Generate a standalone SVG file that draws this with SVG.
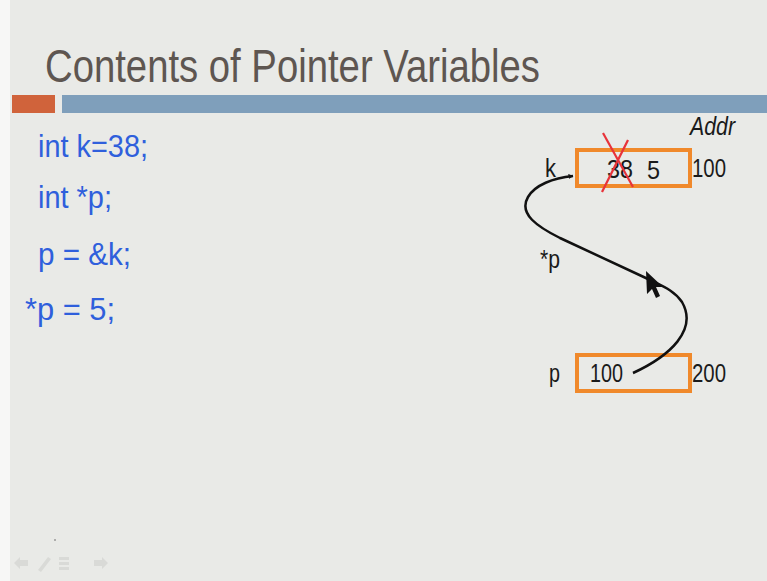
<svg xmlns="http://www.w3.org/2000/svg" width="767" height="581" viewBox="0 0 767 581">
<defs>
<style>
.title{font-family:"Liberation Sans",Arial,sans-serif;font-size:47px;fill:#5e5651}
.code{font-family:"Liberation Sans",Arial,sans-serif;font-size:32px;fill:#2f5fdc}
.lbl{font-family:"Liberation Sans",Arial,sans-serif;font-size:25px;fill:#1a1a1a}
.box{fill:none;stroke:#f0892b;stroke-width:4}
.conn{fill:none;stroke:#111;stroke-width:2.5}
.x{stroke:#e8333a;stroke-width:2.2}
</style>
<marker id="ah" viewBox="0 0 10 10" refX="9" refY="5" markerWidth="5" markerHeight="5" orient="auto" markerUnits="userSpaceOnUse">
<path d="M0,0 L10,5 L0,10 z" fill="#111"/>
</marker>
</defs>
<rect width="767" height="581" fill="#e9eae7"/>
<rect width="10" height="581" fill="#f7f7f6"/>
<g id="header">
<text class="title" x="45" y="82" textLength="495" lengthAdjust="spacingAndGlyphs">Contents of Pointer Variables</text>
<rect x="12" y="95" width="43" height="18" fill="#d0633b"/>
<rect x="62" y="95" width="705" height="18" fill="#7f9fbb"/>
</g>
<g id="code">
<text class="code" x="38" y="157" textLength="110" lengthAdjust="spacingAndGlyphs">int k=38;</text>
<text class="code" x="38" y="208" textLength="74" lengthAdjust="spacingAndGlyphs">int *p;</text>
<text class="code" x="38" y="265" textLength="93" lengthAdjust="spacingAndGlyphs">p = &amp;k;</text>
<text class="code" x="25" y="320" textLength="90" lengthAdjust="spacingAndGlyphs">*p = 5;</text>
</g>
<g id="addr">
<text class="lbl" x="690" y="135" font-style="italic" textLength="45" lengthAdjust="spacingAndGlyphs">Addr</text>
</g>
<g id="node-k">
<rect class="box" x="577" y="150" width="113" height="36"/>
<text class="lbl" x="545" y="177" textLength="11" lengthAdjust="spacingAndGlyphs">k</text>
<text class="lbl" x="607" y="178" textLength="26" lengthAdjust="spacingAndGlyphs">38</text>
<line class="x" x1="603" y1="133" x2="633" y2="187"/>
<line class="x" x1="628" y1="140" x2="602" y2="192"/>
<text class="lbl" x="647" y="179" textLength="13" lengthAdjust="spacingAndGlyphs">5</text>
<text class="lbl" x="692" y="177" textLength="34" lengthAdjust="spacingAndGlyphs">100</text>
</g>
<g id="node-p">
<rect class="box" x="577" y="355" width="113" height="36"/>
<text class="lbl" x="549" y="382" textLength="11" lengthAdjust="spacingAndGlyphs">p</text>
<text class="lbl" x="590" y="382" textLength="33" lengthAdjust="spacingAndGlyphs">100</text>
<text class="lbl" x="692" y="382" textLength="34" lengthAdjust="spacingAndGlyphs">200</text>
</g>
<g id="connectors">
<path class="conn" d="M633,373 C670,356 698,330 682,302 C674,290 662,286 648,279 L560,238 C538,227 518,214 528,197 C535,185 553,178 573,176" marker-end="url(#ah)"/>
<text class="lbl" x="540" y="268" textLength="20" lengthAdjust="spacingAndGlyphs">*p</text>
<polygon points="646,271 647,294 652,289 656,298 660,296 656,287 663,287" fill="#111"/>
</g>
<g id="nav" fill="#d9dad7">
<polygon points="14,563 20,557 20,560 28,560 28,566 20,566 20,569"/>
<polygon points="38,570 48,557 51,559 41,572"/>
<rect x="59" y="557" width="10" height="3"/>
<rect x="59" y="562" width="10" height="3"/>
<rect x="59" y="567" width="10" height="3"/>
<polygon points="108,563 102,557 102,560 94,560 94,566 102,566 102,569"/>
<circle cx="55" cy="540" r="1" fill="#999"/>
</g>
</svg>
